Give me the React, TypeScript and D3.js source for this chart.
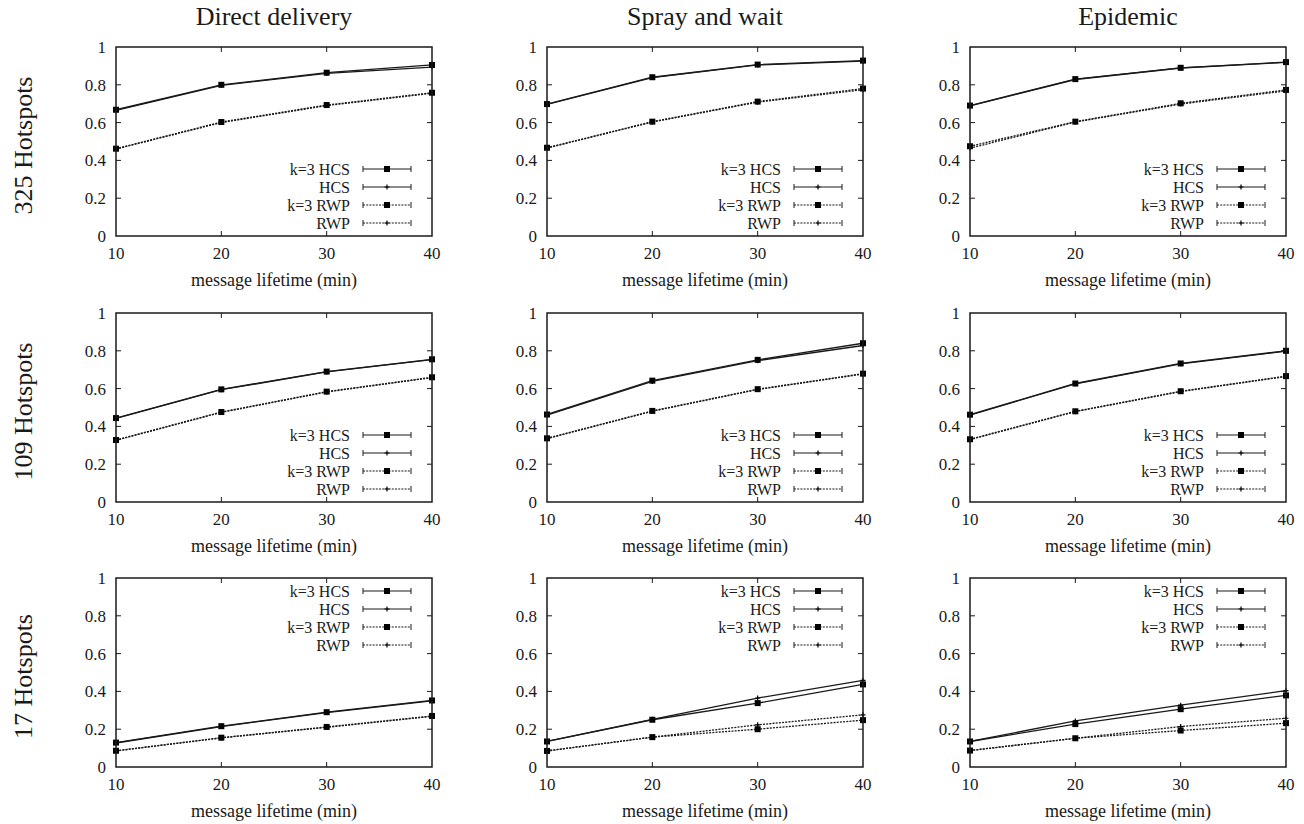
import React, { useRef, useEffect } from "react";
import * as d3 from "d3";

// x values and labels
const lifetimes = [10, 20, 30, 40];
const yTicks = [0, 0.2, 0.4, 0.6, 0.8, 1];
const protocols = ["Direct delivery", "Spray and wait", "Epidemic"];
const hotspotRows = ["325 Hotspots", "109 Hotspots", "17 Hotspots"];
const seriesNames = ["k=3 HCS", "HCS", "k=3 RWP", "RWP"];

// each panel: [k=3 HCS, HCS, k=3 RWP, RWP]
const direct325 = [
  [0.668, 0.8, 0.864, 0.905],
  [0.665, 0.797, 0.86, 0.894],
  [0.462, 0.603, 0.693, 0.758],
  [0.46, 0.6, 0.69, 0.755],
];
const spray325 = [
  [0.698, 0.84, 0.907, 0.928],
  [0.696, 0.838, 0.905, 0.925],
  [0.467, 0.605, 0.711, 0.78],
  [0.465, 0.603, 0.708, 0.774],
];
const epidemic325 = [
  [0.69, 0.83, 0.89, 0.92],
  [0.688, 0.828, 0.889, 0.919],
  [0.475, 0.605, 0.702, 0.773],
  [0.465, 0.603, 0.698, 0.768],
];
const direct109 = [
  [0.444, 0.596, 0.69, 0.755],
  [0.442, 0.594, 0.688, 0.753],
  [0.328, 0.476, 0.584, 0.66],
  [0.326, 0.474, 0.582, 0.658],
];
const spray109 = [
  [0.463, 0.642, 0.752, 0.84],
  [0.46, 0.638, 0.748, 0.828],
  [0.337, 0.482, 0.597, 0.679],
  [0.335, 0.48, 0.595, 0.677],
];
const epidemic109 = [
  [0.462, 0.627, 0.733, 0.8],
  [0.46, 0.625, 0.731, 0.798],
  [0.332, 0.48, 0.586, 0.666],
  [0.33, 0.478, 0.584, 0.664],
];
const direct17 = [
  [0.129, 0.216, 0.29, 0.352],
  [0.127, 0.214, 0.288, 0.35],
  [0.086, 0.155, 0.212, 0.27],
  [0.085, 0.154, 0.21, 0.268],
];
const spray17 = [
  [0.135, 0.25, 0.338, 0.437],
  [0.135, 0.252, 0.365, 0.458],
  [0.085, 0.158, 0.2, 0.248],
  [0.085, 0.158, 0.223, 0.276],
];
const epidemic17 = [
  [0.135, 0.227, 0.306, 0.379],
  [0.135, 0.244, 0.327, 0.404],
  [0.087, 0.152, 0.193, 0.232],
  [0.087, 0.152, 0.214, 0.258],
];

const panels = [
  [direct325, spray325, epidemic325],
  [direct109, spray109, epidemic109],
  [direct17, spray17, epidemic17],
];

const App = () => {
  const svgRef = useRef<SVGSVGElement>(null);

  useEffect(() => {
    document.body.style.margin = "0";
    const svg = d3.select(svgRef.current);
    svg.selectAll("*").remove();

    const font = "'Liberation Serif', 'Times New Roman', serif";
    const ink = "#1a1a1a";
    const colLeft = [116, 547, 970];
    const rowTop = [47, 313, 578];
    const w = 316;
    const h = 189;
    const tick = 5;

    protocols.forEach((p, c) => {
      svg.append("text")
        .attr("x", colLeft[c] + w / 2)
        .attr("y", 25)
        .attr("text-anchor", "middle")
        .attr("font-family", font)
        .attr("font-size", 26)
        .attr("fill", ink)
        .text(p);
    });

    hotspotRows.forEach((r, i) => {
      svg.append("text")
        .attr("transform", `translate(32, ${rowTop[i] + h / 2 + 4}) rotate(-90)`)
        .attr("text-anchor", "middle")
        .attr("font-family", font)
        .attr("font-size", 26)
        .attr("fill", ink)
        .text(r);
    });

    panels.forEach((row, ri) => {
      row.forEach((data, ci) => {
        const g = svg.append("g")
          .attr("transform", `translate(${colLeft[ci]}, ${rowTop[ri]})`);

        const x = d3.scaleLinear().domain([10, 40]).range([0, w]);
        const y = d3.scaleLinear().domain([0, 1]).range([h, 0]);

        // ticks, inward, mirrored
        yTicks.forEach(t => {
          if (t > 0 && t < 1) {
            g.append("line").attr("x1", 0).attr("x2", tick)
              .attr("y1", y(t)).attr("y2", y(t)).attr("stroke", ink);
            g.append("line").attr("x1", w).attr("x2", w - tick)
              .attr("y1", y(t)).attr("y2", y(t)).attr("stroke", ink);
          }
          g.append("text")
            .attr("x", -10)
            .attr("y", y(t))
            .attr("dy", "0.35em")
            .attr("text-anchor", "end")
            .attr("font-family", font)
            .attr("font-size", 17)
            .attr("fill", ink)
            .text(d3.format("~g")(t));
        });
        lifetimes.forEach(t => {
          if (t > 10 && t < 40) {
            g.append("line").attr("x1", x(t)).attr("x2", x(t))
              .attr("y1", h).attr("y2", h - tick).attr("stroke", ink);
            g.append("line").attr("x1", x(t)).attr("x2", x(t))
              .attr("y1", 0).attr("y2", tick).attr("stroke", ink);
          }
          g.append("text")
            .attr("x", x(t))
            .attr("y", h + 23)
            .attr("text-anchor", "middle")
            .attr("font-family", font)
            .attr("font-size", 17)
            .attr("fill", ink)
            .text(t);
        });

        g.append("text")
          .attr("x", w / 2)
          .attr("y", h + 50)
          .attr("text-anchor", "middle")
          .attr("font-family", font)
          .attr("font-size", 18)
          .attr("fill", ink)
          .text("message lifetime (min)");

        const line = d3.line<number>()
          .x((d, i) => x(lifetimes[i]))
          .y(d => y(d));

        const drawMarker = (sel, k, cx, cy) => {
          if (k % 2 === 0) {
            sel.append("rect")
              .attr("x", cx - 3).attr("y", cy - 3)
              .attr("width", 6).attr("height", 6)
              .attr("fill", "#000");
          } else {
            sel.append("path")
              .attr("d", `M${cx - 2.5},${cy}H${cx + 2.5}M${cx},${cy - 2.5}V${cy + 2.5}`)
              .attr("stroke", "#000").attr("stroke-width", 1.2);
          }
        };

        data.forEach((vals, k) => {
          g.append("path")
            .datum(vals)
            .attr("fill", "none")
            .attr("stroke", ink)
            .attr("stroke-width", 1.3)
            .attr("stroke-dasharray", k < 2 ? null : "2,1.2")
            .attr("d", line);
          vals.forEach((v, i) => drawMarker(g, k, x(lifetimes[i]), y(v)));
        });

        // legend
        const legendTop = ri === 2 ? 13 : h - 67;
        seriesNames.forEach((name, k) => {
          const ly = legendTop + k * 18;
          g.append("text")
            .attr("x", w - 82)
            .attr("y", ly)
            .attr("dy", "0.35em")
            .attr("text-anchor", "end")
            .attr("font-family", font)
            .attr("font-size", 16)
            .attr("fill", ink)
            .text(name);
          const x1 = w - 69, x2 = w - 21;
          g.append("line")
            .attr("x1", x1).attr("x2", x2).attr("y1", ly).attr("y2", ly)
            .attr("stroke", ink).attr("stroke-width", 1.2)
            .attr("stroke-dasharray", k < 2 ? null : "2,1.2");
          [x1, x2].forEach(xx => {
            g.append("line")
              .attr("x1", xx).attr("x2", xx).attr("y1", ly - 3).attr("y2", ly + 3)
              .attr("stroke", ink).attr("stroke-width", 1);
          });
          drawMarker(g, k, w - 45, ly);
        });

        g.append("rect")
          .attr("width", w)
          .attr("height", h)
          .attr("fill", "none")
          .attr("stroke", ink)
          .attr("stroke-width", 1.5);
      });
    });
  }, []);

  return (
    <svg ref={svgRef} width={1304} height={824} style={{ display: "block", background: "#fff" }} />
  );
};

export default App;
